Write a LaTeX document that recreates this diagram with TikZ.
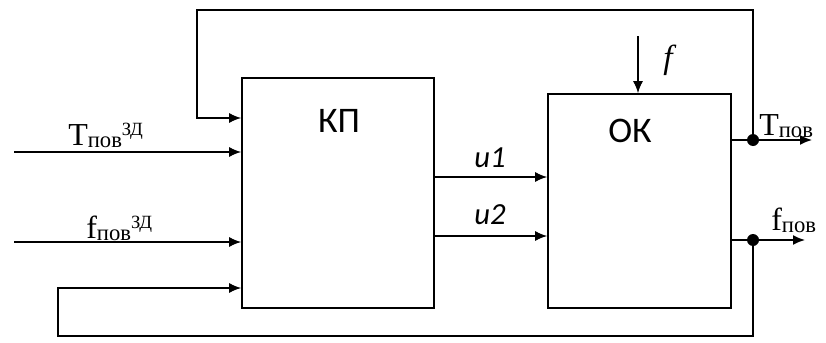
\documentclass[tikz,border=0pt]{standalone}
\usepackage{fontspec}
\setmainfont{Liberation Serif}
\setsansfont{Carlito}
\usetikzlibrary{arrows.meta,positioning,calc}
\newcommand\lowpart[1]{\raisebox{-1.5pt}{\fontsize{17}{20}\selectfont #1}}
\newcommand\highpart[1]{\raisebox{7.5pt}{\fontsize{14}{17}\selectfont #1}}
\tikzset{
   block/.style={ rectangle, draw=black, line width=1.2pt, inner sep=0pt},
   block text/.style={ font=\sffamily\fontsize{27}{32}\selectfont},
   sig text/.style={ font=\sffamily\itshape\fontsize{23}{27}\selectfont},
   var text/.style={ font=\fontsize{24}{28}\selectfont, inner sep=0pt},
   sig/.style={ ->, line width=1.2pt},
   branch/.style={ fill, shape=circle, minimum size=9pt, inner sep=0pt},
   >={Latex[length=9pt,width=7.5pt]}
}

\begin{document}
\begin{tikzpicture}[x=0.75pt,y=-0.75pt]
  \useasboundingbox (0,0) rectangle (826,343);

  \node[block, minimum width=144pt, minimum height=172.5pt]    at (338,193)   (kp) {};
  \node[block, minimum width=137.25pt, minimum height=160.5pt] at (639.5,201) (ok) {};
  \node[block text] at (339,121) (kp text) {КП};
  \node[block text] at (630,131) (ok text) {ОК};

  \node[branch] at (753,140) (t dot) {};
  \node[branch] at (753,240) (f dot) {};

  \coordinate (t in)   at (14,152);
  \coordinate (f in)   at (14,242);
  \coordinate (fb top) at (197,10);
  \coordinate (fb bot) at (58,336);
  \coordinate (f top)  at (638,36);
  \coordinate (t out)  at (812,140);
  \coordinate (f out)  at (805,240);

  \node[var text, anchor=base west] at (68,145)  (t set) {T\lowpart{пов}\highpart{ЗД}};
  \node[var text, anchor=base west] at (86,238)  (f set) {f\lowpart{пов}\highpart{ЗД}};
  \node[var text, anchor=base west] at (759,135) (t val) {T\lowpart{пов}};
  \node[var text, anchor=base west] at (771,230) (f val) {f\lowpart{пов}};
  \node[sig text] at (490,158) (u1 text) {u1};
  \node[sig text] at (490,215) (u2 text) {u2};
  \node[var text, font=\itshape\fontsize{25}{30}\selectfont] at (668,60) (f text) {f};

  \draw[sig] (t in) -- (t in -| kp.west);
  \draw[sig] (f in) -- (f in -| kp.west);

  \draw[sig] (kp.east |- 0,177) -- (ok.west |- 0,177);
  \draw[sig] (kp.east |- 0,236) -- (ok.west |- 0,236);

  \draw[sig] (f top) -- (f top |- ok.north);

  \draw[sig] (ok.east |- t dot) -- (t out);
  \draw[sig] (ok.east |- f dot) -- (f out);

  \draw[sig] (t dot.center) |- (fb top) |- (kp.west |- 0,118);
  \draw[sig] (f dot.center) |- (fb bot) |- (kp.west |- 0,288);
\end{tikzpicture}
\end{document}
